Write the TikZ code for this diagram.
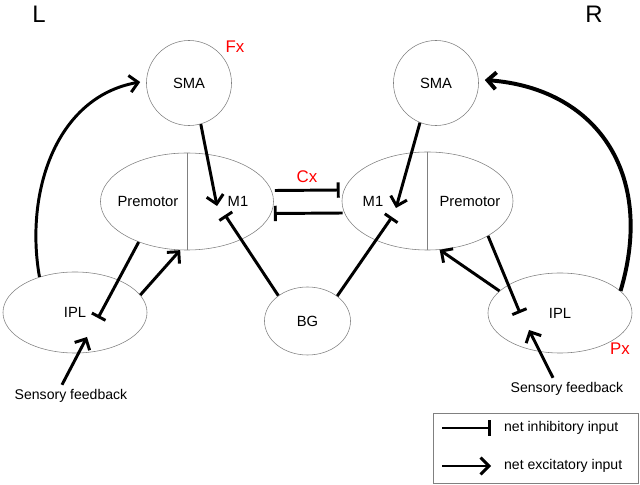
\documentclass[tikz,border=0pt]{standalone}
\usepackage{fontspec}
\setmainfont{Liberation Sans}
\usepackage{tikz}
\usetikzlibrary{shapes, arrows.meta, calc, positioning}
\newcommand{\linew}{2.1pt}

\begin{document}
\begin{tikzpicture}[x=0.025cm,y=-0.025cm,line width=\linew]
            \useasboundingbox (0,0) rectangle (640,485);
            \tikzstyle{area}=[draw=gray,thin,inner sep=0,font=\fontsize{10.5}{12}\selectfont]
            \tikzstyle{lbl}=[font=\fontsize{10.5}{12}\selectfont]
            \tikzstyle{note}=[font=\fontsize{10}{12}\selectfont]
            \tikzstyle{tag}=[text=red,font=\fontsize{12}{14}\selectfont]
            \tikzstyle{side}=[font=\fontsize{17}{20}\selectfont]
            \tikzstyle{exc}=[-{Straight Barb[length=6pt,width=12pt]}]
            \tikzstyle{inh}=[-{Bar[width=11pt]}]

            \begin{scope}
            \node[area,circle,minimum size=2.125cm] (sma_l) at (189,83) {SMA};
            \node[area,circle,minimum size=2.125cm] (sma_r) at (436,83) {SMA};

            \node[area,ellipse,minimum width=4.325cm,minimum height=2.425cm] (cor_l) at (187,201.5) {};
            \node[area,ellipse,minimum width=4.275cm,minimum height=2.45cm] (cor_r) at (427.5,201) {};

            \node[area,ellipse,minimum width=3.6cm,minimum height=2.025cm] (ipl_l) at (75,312.5) {IPL};
            \node[area,ellipse,minimum width=3.6cm,minimum height=2cm] (ipl_r) at (560,313) {IPL};
            \node[area,ellipse,minimum width=2.15cm,minimum height=1.7cm] (bg) at (307.5,321) {BG};
            \end{scope}

            \draw[gray,thin] (cor_l.north) -- (cor_l.south);
            \draw[gray,thin] (cor_r.north) -- (cor_r.south);

            \node[lbl] (pre_l) at (148,201) {Premotor};
            \node[lbl] (m1_l) at (238,201) {M1};
            \node[lbl] (m1_r) at (373,201) {M1};
            \node[lbl] (pre_r) at (470,201) {Premotor};

            \node[note] (sens_l) at (71,396) {Sensory feedback};
            \node[note] (sens_r) at (567,389) {Sensory feedback};

            \node[tag] (fx) at (235,47) {Fx};
            \node[tag] (cx) at (307,177) {Cx};
            \node[tag] (px) at (620,349) {Px};
            \node[side] (side_l) at (39,14) {L};
            \node[side] (side_r) at (594,14) {R};

            % long loops from IPL up to SMA
            \draw[exc] (ipl_l.135) to[out=100,in=190] ($(sma_l.west)+(-6,-1)$);
            \draw[exc,line width=2.8pt] (ipl_r.20) .. controls (656,172) and (595,88) .. ($(sma_r.east)+(6,-3)$);

            \draw[exc] (sma_l.-74) -- ($(m1_l)+(-21,5)$);
            \draw[exc] (sma_r.-112) -- ($(m1_r)+(23,7)$);

            \draw[inh] (bg.139) -- ($(m1_l)+(-13,14)$);
            \draw[inh] (bg.40) -- ($(m1_r)+(19,16)$);

            \draw[inh] (cor_l.220) -- ($(ipl_l)+(23,5.5)$);
            \draw[exc] (ipl_l.15) -- (cor_l.262);
            \draw[exc] (ipl_r.160) -- (cor_r.284);
            \draw[inh] (cor_r.-30) -- ($(ipl_r)+(-40,0)$);

            \draw[exc] ($(sens_l.north)+(-9,1.5)$) -- ($(ipl_l)+(12,24.5)$);
            \draw[exc] ($(sens_r.north)+(-14,1.5)$) -- ($(ipl_r)+(-31,17)$);

            % callosal connections
            \draw[inh] ($(cor_l.east)+(1,-11)$) -- ($(cor_r.west)+(-2,-11)$);
            \draw[inh] ($(cor_r.west)+(1,12)$) -- ($(cor_l.east)+(0,12)$);

            % legend
            \node[draw=gray,thin,inner sep=0,minimum width=5.125cm,minimum height=1.75cm] (legend) at (535.5,448) {};
            \node[note,anchor=west] (inh_txt) at (498,428) {net inhibitory input};
            \node[note,anchor=west] (exc_txt) at (498,466) {net excitatory input};
            \draw[inh] ($(inh_txt.west)+(-56,0)$) -- ($(inh_txt.west)+(-7,0)$);
            \draw[exc] ($(exc_txt.west)+(-56,0)$) -- ($(exc_txt.west)+(-7,0)$);
        \end{tikzpicture}
\end{document}
